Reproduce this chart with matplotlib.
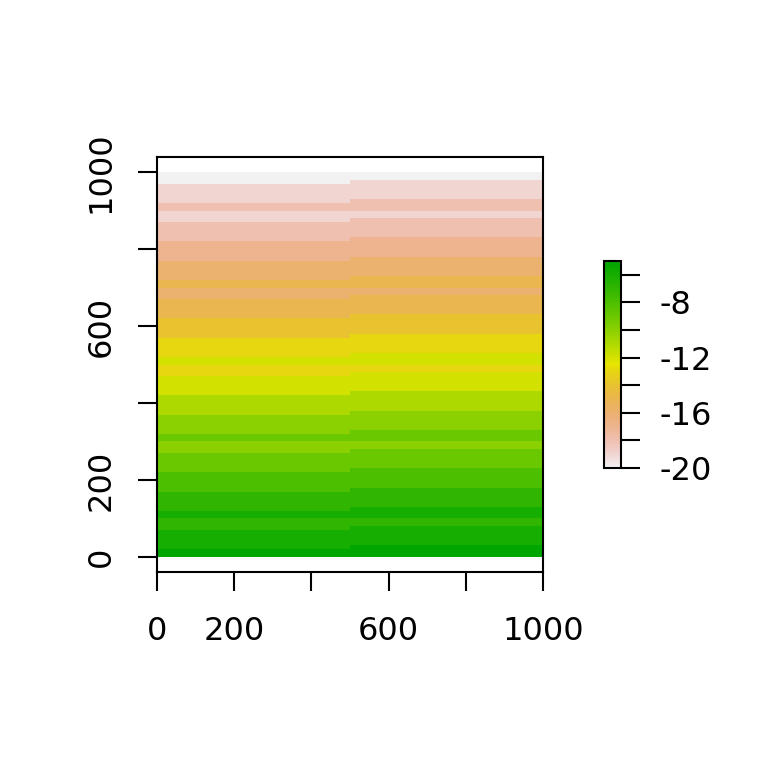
import numpy as np
import matplotlib
matplotlib.use("Agg")
import matplotlib.pyplot as plt
from matplotlib.colors import ListedColormap, Normalize, hsv_to_rgb

# ---- data: stripes per raster column (bottom edge of each stripe, value) ----
col_edges_x = [0, 500, 1000]
left_bottoms = [0, 20, 70, 100, 120, 170, 220, 270, 300, 320, 370, 420, 470,
                500, 520, 570, 620, 670, 700, 720, 770, 820, 870, 900, 920, 970]
right_bottoms = [0, 30, 80, 100, 130, 180, 230, 280, 300, 330, 380, 430, 480,
                 500, 530, 580, 630, 680, 700, 730, 780, 830, 880, 900, 930, 980]
stripe_values = [-5, -6, -7, -6, -7, -8, -9, -10, -9, -10, -11, -12, -13,
                 -12, -13, -14, -15, -16, -15, -16, -17, -18, -19, -18, -19, -20]
y_top = 1000
vmin, vmax = -20, -5

axis_ticks = [0, 200, 400, 600, 800, 1000]
axis_labels = ["0", "200", "", "600", "", "1000"]
cbar_ticks = [-20, -18, -16, -14, -12, -10, -8, -6]
cbar_labels = ["-20", "", "-16", "", "-12", "", "-8", ""]


def terrain_colors(n):
    k = n // 2
    m = n - k + 1
    h = np.concatenate([np.linspace(4 / 12, 2 / 12, k), np.linspace(2 / 12, 0, m)[1:]])
    s = np.concatenate([np.linspace(1, 1, k), np.linspace(1, 0, m)[1:]])
    v = np.concatenate([np.linspace(0.65, 0.9, k), np.linspace(0.9, 0.95, m)[1:]])
    return hsv_to_rgb(np.column_stack([h, s, v]))


cmap = ListedColormap(terrain_colors(255)[::-1])
norm = Normalize(vmin, vmax)

# build grid from stripes
y_edges = np.unique(np.concatenate([left_bottoms, right_bottoms, [y_top]]))
Z = np.empty((len(y_edges) - 1, 2))
for j, bottoms in enumerate([left_bottoms, right_bottoms]):
    for i in range(len(y_edges) - 1):
        mid = 0.5 * (y_edges[i] + y_edges[i + 1])
        idx = np.searchsorted(bottoms, mid, side="right") - 1
        Z[i, j] = stripe_values[idx]

W = 768
FS = 23
LW = 1.5
fig = plt.figure(figsize=(7.68, 7.68), dpi=100)
ax = fig.add_axes([157 / W, 1 - 572 / W, 386 / W, 415 / W])
mesh = ax.pcolormesh(col_edges_x, y_edges, Z, cmap=cmap, norm=norm, shading="flat")
ax.set_xlim(0, 1000)
ax.set_ylim(-39, 1039)
ax.set_xticks(axis_ticks)
ax.set_xticklabels(axis_labels)
ax.set_yticks(axis_ticks)
ax.set_yticklabels(axis_labels, rotation=90, va="center")
for sp in ax.spines.values():
    sp.set_linewidth(LW)
ax.tick_params(axis="both", length=13.7, width=LW, labelsize=FS, color="black")
ax.tick_params(axis="x", pad=18)
ax.tick_params(axis="y", pad=15.5)

cax = fig.add_axes([603.5 / W, 1 - 468 / W, 17.5 / W, 207 / W])
cb = fig.colorbar(mesh, cax=cax)
cb.set_ticks(cbar_ticks)
cb.set_ticklabels(cbar_labels)
cb.outline.set_linewidth(LW)
cax.tick_params(length=13.7, width=LW, labelsize=FS, pad=14)

fig.savefig("out.png", dpi=100)
